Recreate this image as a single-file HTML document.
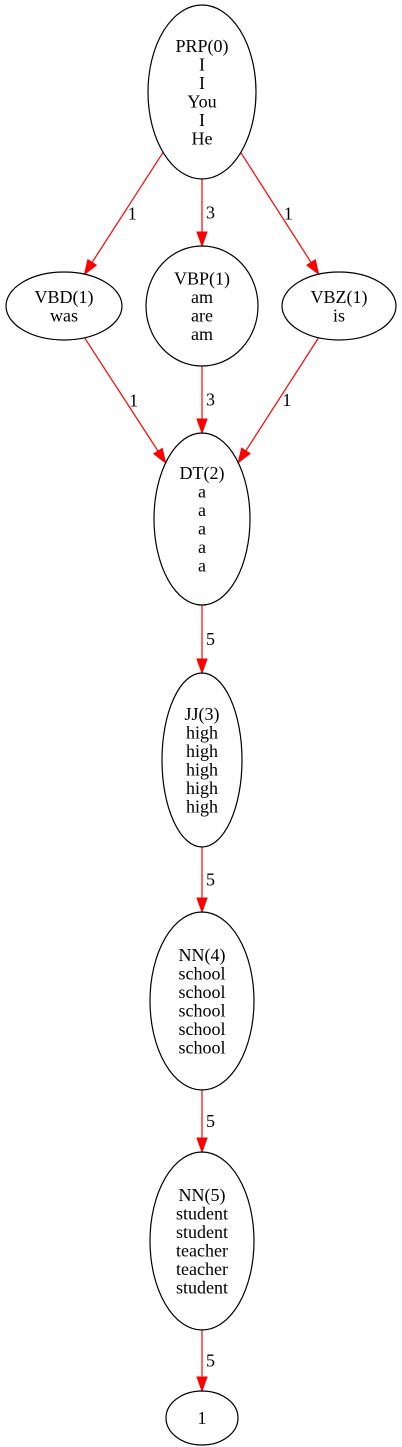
<!DOCTYPE html>
<html><head><meta charset="utf-8"><style>
html,body{margin:0;padding:0;background:#fff}
svg{display:block}
text{font-family:"Liberation Serif",serif;font-size:18px;fill:#000}
</style></head><body>
<svg id="g" width="402" height="1447" viewBox="0 0 402 1447"></svg>
<script>
const nodeIds=["PRP","VBD","VBP","VBZ","DT","JJ","NN4","NN5","END"];
const nodeLabels=[["PRP(0)","I","I","You","I","He"],["VBD(1)","was"],["VBP(1)","am","are","am"],["VBZ(1)","is"],["DT(2)","a","a","a","a","a"],["JJ(3)","high","high","high","high","high"],["NN(4)","school","school","school","school","school"],["NN(5)","student","student","teacher","teacher","student"],["1"]];
const nodeCx=[202,64,202,339,202,202,202,202,202];
const nodeCy=[92,306,306,306,519,760,1001,1241,1418];
const nodeRx=[54,58,56,57,48,40,52,52,36];
const nodeRy=[87,34,60,34,86,87,89,89,27];
const edgeFrom=[0,0,0,1,2,3,4,5,6,7];
const edgeTo=[1,2,3,4,4,4,5,6,7,8];
const edgeWeights=[1,3,1,1,3,1,5,5,5,5];
const NS="http://www.w3.org/2000/svg";
const svg=document.getElementById('g');
function mk(t,a){const e=document.createElementNS(NS,t);for(const k in a)e.setAttribute(k,a[k]);return e;}
function boundary(i,tx,ty){const dx=tx-nodeCx[i],dy=ty-nodeCy[i];const s=1/Math.sqrt((dx*dx)/(nodeRx[i]*nodeRx[i])+(dy*dy)/(nodeRy[i]*nodeRy[i]));return [nodeCx[i]+dx*s,nodeCy[i]+dy*s];}
edgeFrom.forEach((f,k)=>{
  const t=edgeTo[k];
  const p0=boundary(f,nodeCx[t],nodeCy[t]);
  const p1=boundary(t,nodeCx[f],nodeCy[f]);
  const dx=p1[0]-p0[0],dy=p1[1]-p0[1],L=Math.hypot(dx,dy),ux=dx/L,uy=dy/L;
  const bx=p1[0]-ux*14,by=p1[1]-uy*14;
  const g=mk('g',{});
  
  
  g.appendChild(mk('line',{x1:p0[0],y1:p0[1],x2:bx,y2:by,stroke:'#f00','stroke-width':1.2}));
  g.appendChild(mk('polygon',{points:`${p1[0]},${p1[1]} ${bx-uy*5},${by+ux*5} ${bx+uy*5},${by-ux*5}`,fill:'#f00',stroke:'#f00'}));
  const mx=(p0[0]+p1[0])/2,my=(p0[1]+p1[1])/2;
  const lbl=mk('text',{x:mx+4,y:my+6});
  
  
  lbl.textContent=edgeWeights[k];
  g.appendChild(lbl);
  svg.appendChild(g);
});
nodeIds.forEach((id,i)=>{
  const g=mk('g',{});
  
  
  g.appendChild(mk('ellipse',{cx:nodeCx[i],cy:nodeCy[i],rx:nodeRx[i],ry:nodeRy[i],fill:'none',stroke:'#000','stroke-width':1.2}));
  const lines=nodeLabels[i],n=lines.length,lh=18.5;
  lines.forEach((s,j)=>{
    const t=mk('text',{x:nodeCx[i],y:nodeCy[i]-(n-1)*lh/2+j*lh+6,'text-anchor':'middle'});
    
    
    t.textContent=s;
    g.appendChild(t);
  });
  svg.appendChild(g);
});
</script>
</body></html>
